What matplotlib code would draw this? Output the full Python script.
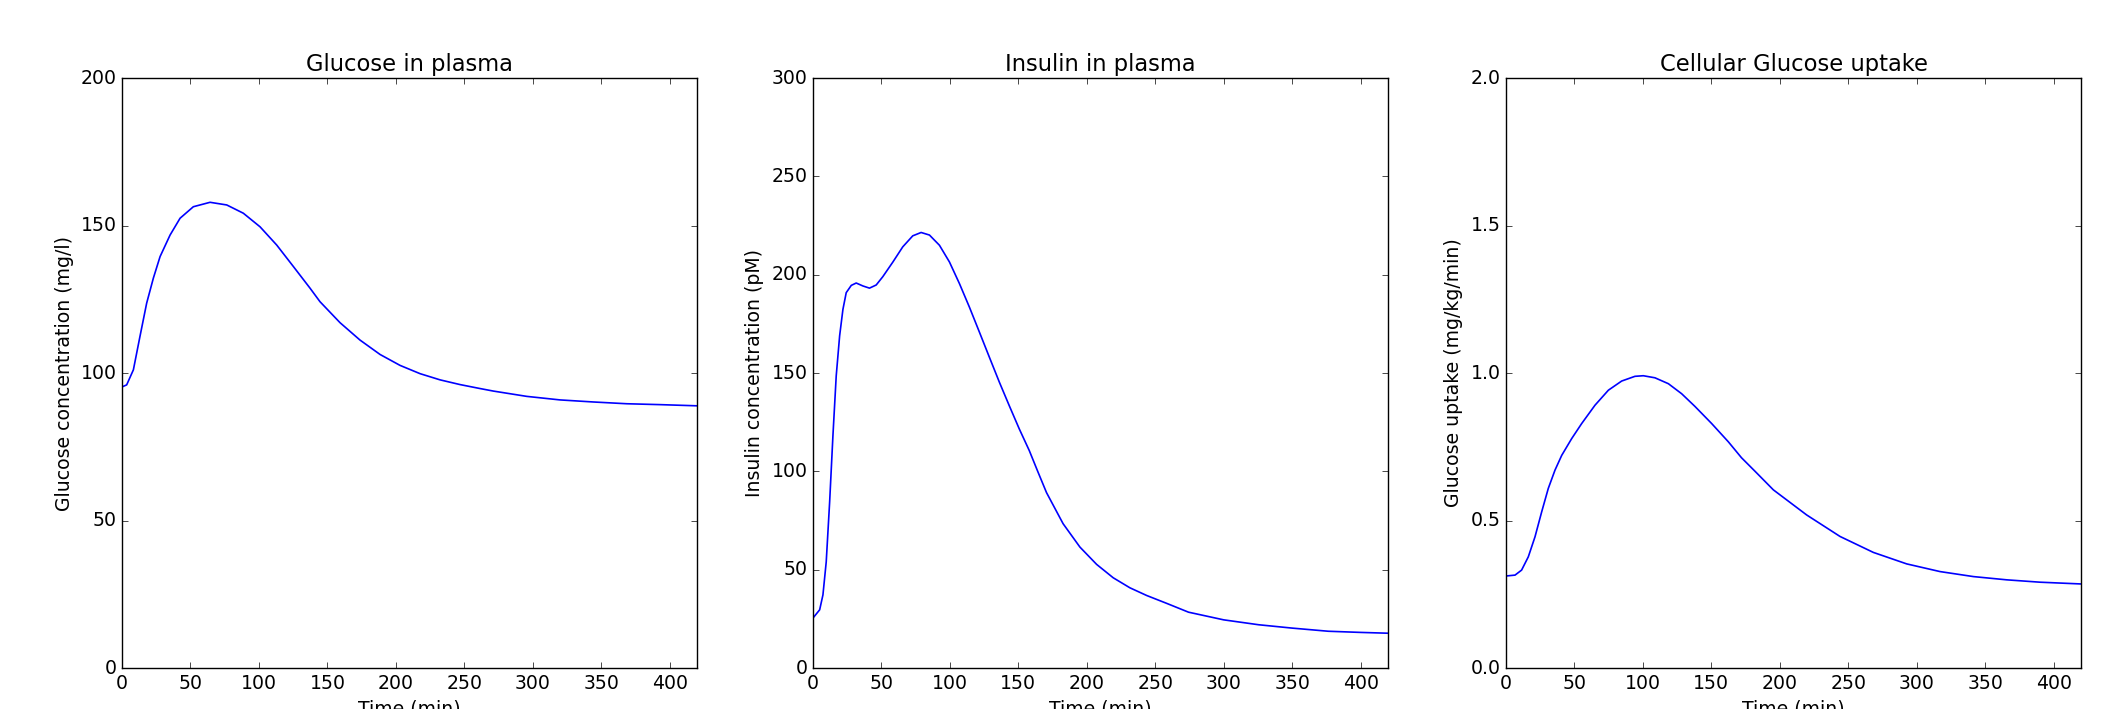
import matplotlib
matplotlib.use("Agg")
import matplotlib.pyplot as plt

# valores (tempo em min)
glucose_t = [0, 3.4, 8.3, 13.1, 18, 22.9, 27.8, 35.1, 42.4, 52.1, 64.3, 76.5, 88.6,
             100.8, 113, 125.2, 137.3, 144.6, 159.2, 173.8, 188.5, 203.1, 217.7,
             232.3, 246.9, 261, 271.2, 295.6, 319.9, 344.3, 368.7, 393, 420]
glucose_v = [95.3, 96, 101.1, 112.4, 123.7, 132.2, 139.5, 146.8, 152.5, 156.4, 157.9,
             157, 154.2, 149.6, 143.4, 136.1, 128.8, 124.2, 117.1, 111.2, 106.3, 102.6,
             99.8, 97.7, 96.1, 94.8, 93.9, 92.1, 90.9, 90.2, 89.6, 89.3, 88.9]

insulin_t = [0, 4.9, 7.3, 9.7, 12.2, 14.6, 17, 19.5, 21.9, 24.3, 28, 31.6, 36.5, 41.3,
             46.2, 51, 58.4, 65.6, 72.9, 79, 85.1, 92.4, 99.7, 107, 114.3, 121.6,
             128.9, 136.2, 143.4, 150.7, 158, 164, 170.6, 182.7, 195, 207.2, 219.3,
             231.5, 243.7, 258.3, 274.3, 300, 325.6, 350, 376.4, 400.4, 420]
insulin_v = [25.4, 29.6, 37.2, 54, 84.5, 118.2, 148.6, 169, 182.4, 190.9, 194.6, 195.8,
             194.3, 193.2, 194.8, 199, 206.5, 214.2, 219.8, 221.5, 220.2, 215, 206.5,
             195.5, 183.5, 170.8, 158, 145.3, 133.4, 121.6, 110.6, 100.3, 89.2, 73.4,
             61.5, 52.7, 45.9, 40.8, 36.9, 32.9, 28.4, 24.5, 22, 20.3, 18.7, 18.1, 17.7]

uptake_t = [0, 6.6, 11.4, 16.3, 21.2, 26.1, 30.9, 35.8, 40.7, 48, 55.3, 65, 74.8, 84.5,
            94.2, 100.3, 108.8, 118.6, 128.3, 138, 150.2, 162.4, 172, 181.9, 195.3,
            219.6, 244, 268.3, 292.7, 317, 341.4, 365.7, 390, 420]
uptake_v = [0.312, 0.315, 0.332, 0.377, 0.445, 0.530, 0.609, 0.671, 0.721, 0.778,
            0.829, 0.891, 0.942, 0.973, 0.989, 0.991, 0.984, 0.964, 0.930, 0.887,
            0.829, 0.767, 0.713, 0.667, 0.604, 0.519, 0.446, 0.392, 0.353, 0.327,
            0.310, 0.299, 0.291, 0.285]

plt.style.use("classic")
plt.rcParams["font.size"] = 13.6

fig = plt.figure(figsize=(21.11, 7.09), dpi=100, facecolor="white")

paineis = [
    (0.0578, glucose_t, glucose_v, "Glucose in plasma", "Glucose concentration (mg/l)", (0, 200)),
    (0.3851, insulin_t, insulin_v, "Insulin in plasma", "Insulin concentration (pM)", (0, 300)),
    (0.7134, uptake_t, uptake_v, "Cellular Glucose uptake", "Glucose uptake (mg/kg/min)", (0, 2)),
]

for esquerda, t, v, titulo, rotulo_y, lim_y in paineis:
    ax = fig.add_axes([esquerda, 0.0578, 0.2724, 0.832])
    ax.plot(t, v, color="b", linewidth=1.2)
    ax.set_xlim(0, 420)
    ax.set_ylim(*lim_y)
    ax.set_title(titulo)
    ax.set_xlabel("Time (min)")
    ax.set_ylabel(rotulo_y)

fig.savefig("out.png", dpi=100, facecolor="white")
